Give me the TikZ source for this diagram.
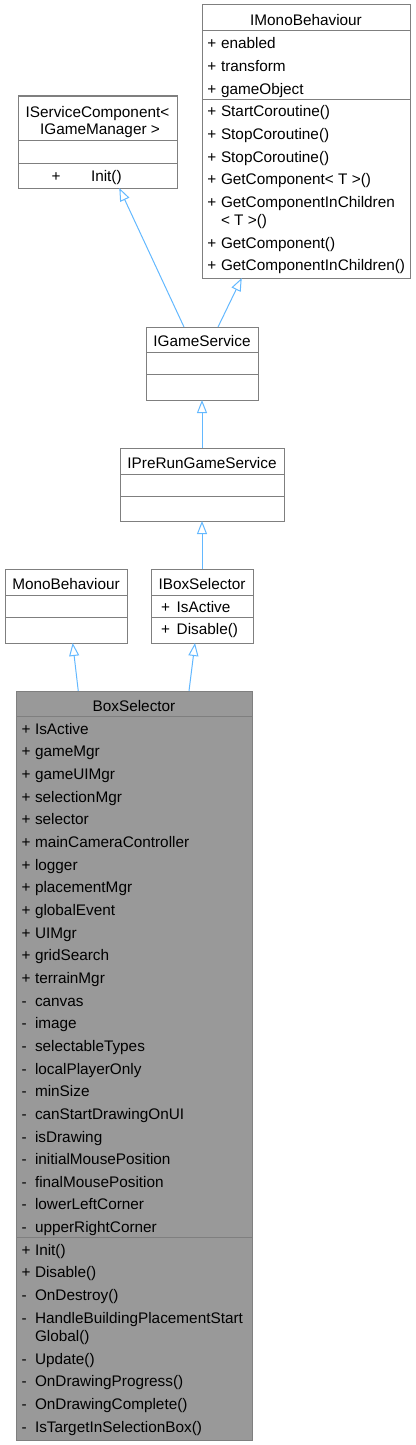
\documentclass[tikz,border=0pt]{standalone}
\usepackage{fontspec}
\setmainfont{Liberation Sans}
\usepackage{xcolor}
\usetikzlibrary{arrows.meta}
\definecolor{cEdge}{HTML}{63B8FF}
\definecolor{cBorder}{HTML}{7F7F7F}
\definecolor{cHilite}{HTML}{999999}

\begin{document}
\begin{tikzpicture}[
  x=0.75pt, y=-0.75pt,
  every node/.style={font=\fontsize{11.5pt}{13.5pt}\selectfont, inner sep=0pt, outer sep=0pt},
  classbox/.style={draw=cBorder, line width=0.75pt, fill=white, anchor=north west},
  sepline/.style={draw=cBorder, line width=0.75pt},
  classtitle/.style={anchor=base},
  member/.style={anchor=base west},
  inherit/.style={draw=cEdge, line width=0.75pt, -{Triangle[open, length=9.75pt, width=7.5pt]}},
]

\useasboundingbox (0,0) rectangle (415,1445);

% IMonoBehaviour
\node[classbox, minimum width=156pt, minimum height=204.75pt] (imb) at (202,5) {};
\draw[sepline] (imb.west |- 0,31) -- (imb.east |- 0,31);
\draw[sepline] (imb.west |- 0,99) -- (imb.east |- 0,99);
\node[classtitle] (imbT) at (306,26) {IMonoBehaviour};
\foreach \y/\s/\t [count=\i] in {49/+/enabled, 71.7/+/transform, 94.3/+/gameObject,
    116.7/+/StartCoroutine(), 139.3/+/StopCoroutine(), 162/+/StopCoroutine(),
    184.7/+/GetComponent< T >(), 207.3/+/GetComponentInChildren, 225.3//< T >(),
    248/+/GetComponent(), 270.7/+/GetComponentInChildren()} {
  \node[member] (imbS\i) at (207.3,\y) {\s};
  \node[member] (imbM\i) at (221,\y) {\t};
}

% IServiceComponent< IGameManager >
\node[classbox, minimum width=119.25pt, minimum height=69pt] (isc) at (18,96) {};
\draw[sepline] (isc.west |- 0,140) -- (isc.east |- 0,140);
\draw[sepline] (isc.west |- 0,163) -- (isc.east |- 0,163);
\node[classtitle] (iscT1) at (97.5,117.3) {IServiceComponent<};
\node[classtitle] (iscT2) at (100,134.7) {IGameManager >};
\node[member] (iscS1) at (51.7,181) {+};
\node[member] (iscM1) at (91,181) {Init()};

% IGameService
\node[classbox, minimum width=84pt, minimum height=54.75pt] (gs) at (146,327) {};
\draw[sepline] (gs.west |- 0,352) -- (gs.east |- 0,352);
\draw[sepline] (gs.west |- 0,374) -- (gs.east |- 0,374);
\node[classtitle] (gsT) at (202,346.7) {IGameService};

% IPreRunGameService
\node[classbox, minimum width=123pt, minimum height=54.75pt] (ipr) at (120,448) {};
\draw[sepline] (ipr.west |- 0,474) -- (ipr.east |- 0,474);
\draw[sepline] (ipr.west |- 0,496) -- (ipr.east |- 0,496);
\node[classtitle] (iprT) at (202,468.7) {IPreRunGameService};

% MonoBehaviour
\node[classbox, minimum width=91.5pt, minimum height=55.5pt] (mb) at (5,569) {};
\draw[sepline] (mb.west |- 0,595) -- (mb.east |- 0,595);
\draw[sepline] (mb.west |- 0,617) -- (mb.east |- 0,617);
\node[classtitle] (mbT) at (66,589.3) {MonoBehaviour};

% IBoxSelector
\node[classbox, minimum width=76.5pt, minimum height=55.5pt] (ibs) at (151,569) {};
\draw[sepline] (ibs.west |- 0,595) -- (ibs.east |- 0,595);
\draw[sepline] (ibs.west |- 0,617) -- (ibs.east |- 0,617);
\node[classtitle] (ibsT) at (202,589.3) {IBoxSelector};
\node[member] (ibsS1) at (161,612.7) {+};
\node[member] (ibsM1) at (176.7,612.7) {IsActive};
\node[member] (ibsS2) at (161,634.7) {+};
\node[member] (ibsM2) at (176.7,634.7) {Disable()};

% BoxSelector
\node[classbox, fill=cHilite, minimum width=177pt, minimum height=561.75pt] (bs) at (16,691) {};
\draw[sepline] (bs.west |- 0,716) -- (bs.east |- 0,716);
\draw[sepline] (bs.west |- 0,1237) -- (bs.east |- 0,1237);
\node[classtitle] (bsT) at (134,711.7) {BoxSelector};
\foreach \s/\t [count=\i] in {+/IsActive, +/gameMgr, +/gameUIMgr, +/selectionMgr, +/selector,
    +/mainCameraController, +/logger, +/placementMgr, +/globalEvent, +/UIMgr, +/gridSearch,
    +/terrainMgr, -/canvas, -/image, -/selectableTypes, -/localPlayerOnly, -/minSize,
    -/canStartDrawingOnUI, -/isDrawing, -/initialMousePosition, -/finalMousePosition,
    -/lowerLeftCorner, -/upperRightCorner} {
  \node[member] (bsAS\i) at (21.7,{734.3+22.65*(\i-1)}) {\s};
  \node[member] (bsA\i) at (35,{734.3+22.65*(\i-1)}) {\t};
}
\foreach \y/\s/\t [count=\i] in {1255/+/Init(), 1277.7/+/Disable(), 1300.4/-/OnDestroy(),
    1323.1/-/HandleBuildingPlacementStart, 1341.3//Global(), 1364/-/Update(),
    1386.7/-/OnDrawingProgress(), 1409.4/-/OnDrawingComplete(), 1432.1/-/IsTargetInSelectionBox()} {
  \node[member] (bsMS\i) at (21.7,\y) {\s};
  \node[member] (bsM\i) at (35,\y) {\t};
}

% inheritance
\draw[inherit] ([xshift=-13.5pt]gs.north) -- ([xshift=16.35pt]isc.south);
\draw[inherit] ([xshift=12pt]gs.north) -- ([xshift=-48.2pt]imb.south);
\draw[inherit] (ipr.north) -- (gs.south);
\draw[inherit] (ibs.north) -- (ipr.south);
\draw[inherit] ([xshift=-41.8pt]bs.north) -- ([xshift=5pt]mb.south);
\draw[inherit] ([xshift=41.25pt]bs.north) -- ([xshift=-5.25pt]ibs.south);

\end{tikzpicture}
\end{document}
